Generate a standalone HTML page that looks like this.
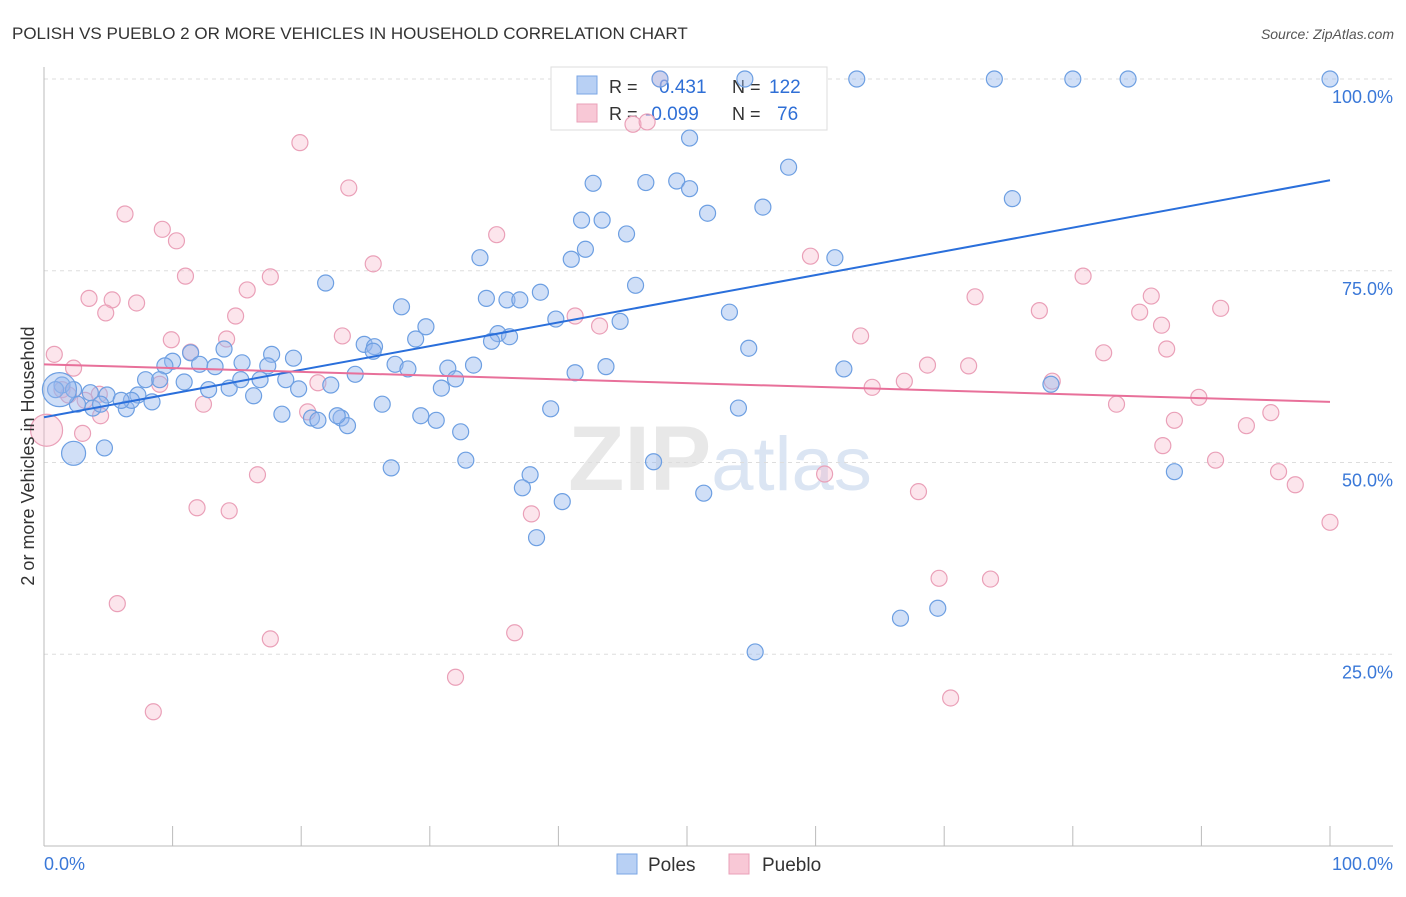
<!DOCTYPE html>
<html><head><meta charset="utf-8"><style>
body{margin:0;background:#fff;font-family:"Liberation Sans",sans-serif;}
svg text{font-family:"Liberation Sans",sans-serif;}
</style></head><body>
<svg id="chart" width="1406" height="892" xmlns="http://www.w3.org/2000/svg">
<text x="12" y="39" font-size="17" fill="#333">POLISH VS PUEBLO 2 OR MORE VEHICLES IN HOUSEHOLD CORRELATION CHART</text>
<text x="1394" y="39" font-size="14" fill="#555" text-anchor="end" font-style="italic">Source: ZipAtlas.com</text>
<text x="720" y="490" font-size="92" fill="#e8e8e8" text-anchor="middle" font-family="Liberation Serif"><tspan font-weight="bold">ZIP</tspan><tspan fill="#dbe5f3" font-family="Liberation Sans" font-size="76">atlas</tspan></text>
<g id="grid"></g>
<g id="axes"></g>
<g>
<rect x="551" y="67" width="276" height="63" fill="#fff" stroke="#ddd"/>
<rect x="577" y="76" width="20" height="18" fill="#b8d0f4" stroke="#7aa6e4"/>
<text x="609" y="93" font-size="18" fill="#333">R =</text>
<text x="659" y="93" font-size="19" fill="#2f6fd6">0.431</text>
<text x="732" y="93" font-size="18" fill="#333">N =</text>
<text x="769" y="93" font-size="19" fill="#2f6fd6">122</text>
<rect x="577" y="104" width="20" height="18" fill="#f8c8d6" stroke="#eaa0b8"/>
<text x="609" y="120" font-size="18" fill="#333">R =</text>
<text x="645" y="120" font-size="19" fill="#2f6fd6">-0.099</text>
<text x="732" y="120" font-size="18" fill="#333">N =</text>
<text x="777" y="120" font-size="19" fill="#2f6fd6">76</text>
</g>
<g id="points"></g>
<g id="lines"></g>
<text transform="translate(34,456) rotate(-90)" font-size="18" fill="#333" text-anchor="middle">2 or more Vehicles in Household</text>
<rect x="617" y="854" width="20" height="20" fill="#b8d0f4" stroke="#7aa6e4"/>
<text x="648" y="871" font-size="19" fill="#333">Poles</text>
<rect x="729" y="854" width="20" height="20" fill="#f8c8d6" stroke="#eaa0b8"/>
<text x="762" y="871" font-size="19" fill="#333">Pueblo</text>
</svg>
<script>
const blueX=[47.9,54.5,63.2,73.9,80.0,84.3,100,50.2,42.7,46.8,49.2,50.2,57.9,41.8,43.4,51.6,55.9,45.3,75.3,42.1,41.0,33.9,21.9,61.5,46.0,38.6,34.4,36.0,37.0,27.8,53.3,39.8,29.7,44.8,35.3,34.8,36.2,28.9,24.9,25.7,14.0,17.7,19.4,25.6,54.8,10.0,11.4,9.4,12.1,15.4,17.4,27.3,28.3,33.4,31.4,32.0,30.9,41.3,43.7,62.2,78.3,1.4,0.9,2.3,3.6,4.9,7.9,9.0,10.9,12.8,14.4,16.8,18.8,19.8,22.3,24.2,7.3,8.4,6.4,3.8,4.4,2.6,6.8,16.3,26.3,18.5,20.8,21.3,23.1,23.6,29.3,30.5,32.4,39.4,54.0,4.7,27.0,32.8,37.8,47.4,37.2,87.9,51.3,40.3,38.3,66.6,69.5,55.3,6.0,13.3,15.3,22.8];
const blueY=[100,100,100,100,100,100,100,92.3,86.4,86.5,86.7,85.7,88.5,81.6,81.6,82.5,83.3,79.8,84.4,77.8,76.5,76.7,73.4,76.7,73.1,72.2,71.4,71.2,71.2,70.3,69.6,68.7,67.7,68.4,66.8,65.8,66.4,66.1,65.4,65.1,64.8,64.1,63.6,64.5,64.9,63.2,64.3,62.6,62.8,63.0,62.6,62.8,62.2,62.7,62.3,60.9,59.7,61.7,62.5,62.2,60.2,60.1,59.5,59.5,59.1,58.8,60.8,60.8,60.5,59.5,59.7,60.8,60.8,59.6,60.1,61.5,58.8,57.9,57.0,57.1,57.6,57.6,58.1,58.7,57.6,56.3,55.8,55.5,55.8,54.8,56.1,55.5,54.0,57.0,57.1,51.9,49.3,50.3,48.4,50.1,46.7,48.8,46.0,44.9,40.2,29.7,31.0,25.3,58.1,62.5,60.8,56.1];
const blueBigX=[1.2,2.3];
const blueBigY=[59.5,51.2];
const pinkX=[47.9,0.8,2.3,1.4,1.9,4.3,3.2,4.4,3.0,6.3,9.2,10.3,11.0,3.5,5.3,7.2,4.8,9.9,11.4,14.2,14.9,15.8,17.6,9.0,12.4,19.9,23.7,25.6,23.2,21.3,20.5,35.2,41.3,43.2,45.8,46.9,59.6,63.5,64.4,66.9,68.7,71.9,72.4,77.4,80.8,82.4,78.4,83.4,85.2,86.1,86.9,87.3,87.9,89.8,87.0,91.1,91.5,93.5,95.4,96.0,97.3,100,16.6,11.9,14.4,37.9,60.7,68.0,5.7,17.6,36.6,32.0,8.5,69.6,73.6,70.5];
const pinkY=[100,64.1,62.3,59.5,58.8,58.9,58.1,56.1,53.8,82.4,80.4,78.9,74.3,71.4,71.2,70.8,69.5,66.0,64.4,66.1,69.1,72.5,74.2,60.2,57.6,91.7,85.8,75.9,66.5,60.4,56.6,79.7,69.1,67.8,94.1,94.4,76.9,66.5,59.8,60.6,62.7,62.6,71.6,69.8,74.3,64.3,60.6,57.6,69.6,71.7,67.9,64.8,55.5,58.5,52.2,50.3,70.1,54.8,56.5,48.8,47.1,42.2,48.4,44.1,43.7,43.3,48.5,46.2,31.6,27.0,27.8,22.0,17.5,34.9,34.8,19.3];
const pinkBigX=[0.2];
const pinkBigY=[54.2];
const blueTrend=[55.9,86.8];
const pinkTrend=[62.8,57.9];
const yTicks=[25,50,75,100];
const yTickLabels=["25.0%","50.0%","75.0%","100.0%"];
const xTicks=[0,10,20,30,40,50,60,70,80,90,100];

const NS="http://www.w3.org/2000/svg";
const X0=44,X1=1330,Y0=846,Y1=79;
function sx(v){return X0+(X1-X0)*v/100;}
function sy(v){return Y0-(Y0-Y1)*v/100;}
function mk(tag,attrs,parent){const e=document.createElementNS(NS,tag);for(const k in attrs)e.setAttribute(k,attrs[k]);parent.appendChild(e);return e;}
const grid=document.getElementById('grid'),axes=document.getElementById('axes'),pts=document.getElementById('points'),lines=document.getElementById('lines');
yTicks.forEach((t,i)=>{
 const g=mk('line',{x1:X0,x2:1393,y1:sy(t),y2:sy(t),stroke:'#ddd','stroke-dasharray':'4,4'},grid);
 
 
 const l=mk('text',{x:1393,y:sy(t)+24,'font-size':18,fill:'#3a78d8','text-anchor':'end'},axes);
 l.textContent=yTickLabels[i];
 
 
});
const ax=mk('line',{x1:X0,x2:1393,y1:Y0,y2:Y0,stroke:'#bbb'},axes);


const ay=mk('line',{x1:X0,x2:X0,y1:67,y2:Y0,stroke:'#bbb'},axes);


xTicks.forEach(t=>{
 const k=mk('line',{x1:sx(t),x2:sx(t),y1:826,y2:Y0,stroke:'#bbb'},axes);
 
 
});
const xl0=mk('text',{x:44,y:870,'font-size':18,fill:'#3a78d8'},axes);xl0.textContent='0.0%';


const xl1=mk('text',{x:1393,y:870,'font-size':18,fill:'#3a78d8','text-anchor':'end'},axes);xl1.textContent='100.0%';


function dot(x,y,r,blue){
 const c=mk('circle',{cx:sx(x),cy:sy(y),r:r,fill:blue?'rgba(150,185,238,0.45)':'rgba(245,180,200,0.35)',stroke:blue?'#6d9fe2':'#eaa0b8','stroke-width':1.2},pts);
 
 
}
pinkX.forEach((x,i)=>dot(x,pinkY[i],8,false));
pinkBigX.forEach((x,i)=>dot(x,pinkBigY[i],16,false));
blueX.forEach((x,i)=>dot(x,blueY[i],8,true));
blueBigX.forEach((x,i)=>dot(x,blueBigY[i],i==0?17:12,true));
const bl=mk('line',{x1:sx(0),y1:sy(blueTrend[0]),x2:sx(100),y2:sy(blueTrend[1]),stroke:'#2a6fdb','stroke-width':2},lines);


const pl=mk('line',{x1:sx(0),y1:sy(pinkTrend[0]),x2:sx(100),y2:sy(pinkTrend[1]),stroke:'#e8709a','stroke-width':2},lines);


</script>
</body></html>
